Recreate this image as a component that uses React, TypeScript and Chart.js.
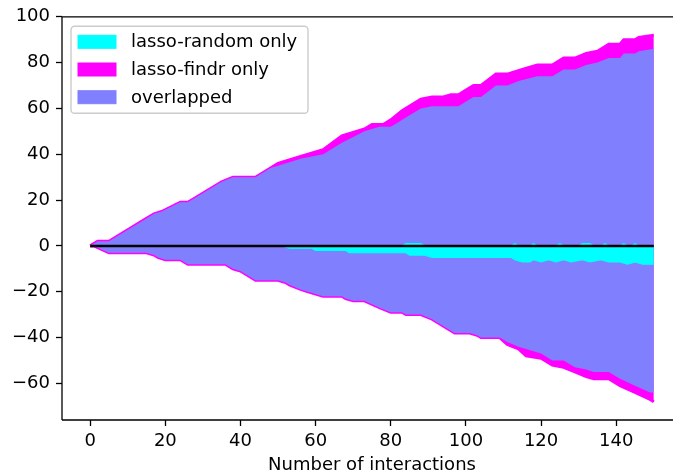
import React, { useEffect, useRef } from 'react';
import { Chart, registerables } from 'chart.js';

Chart.register(...registerables);

// ---------- data ----------
const xTickValues = [0, 20, 40, 60, 80, 100, 120, 140];
const yTickValues = [-60, -40, -20, 0, 20, 40, 60, 80, 100];

// upper half: outer edge of "lasso-findr only" (magenta)
const posTotalX = [0, 2, 5, 15, 17, 19, 24, 26, 35, 38, 44, 50, 56, 62, 67, 73, 75, 78, 80, 83, 88, 91, 94, 96, 98, 102, 104, 108, 111, 115, 119, 123, 126, 129, 132, 135, 138, 141, 142, 145, 146, 150];
const posTotalY = [0, 2, 2, 12, 14, 15, 19, 19, 28, 30, 30, 36, 39, 42, 48, 51, 53, 53, 55, 59, 64, 65, 65, 66, 66, 70, 70, 75, 75, 77, 79, 79, 82, 82, 84, 85, 88, 88, 90, 90, 91, 92];

// upper half: top of "overlapped" (blue)
const posOverlapX = [0, 2, 5, 15, 17, 19, 24, 26, 35, 38, 44, 48, 50, 56, 62, 67, 73, 77, 80, 82, 84, 88, 91, 98, 102, 104, 108, 111, 114, 119, 123, 126, 129, 132, 135, 138, 141, 142, 145, 146, 150];
const posOverlapY = [0, 2, 2, 12, 14, 15, 19, 19, 28, 30, 30, 34, 35, 38, 40, 45, 50, 52, 52, 54, 56, 60, 61, 61, 65, 65, 70, 70, 72, 74, 74, 77, 77, 79, 80, 82, 82, 84, 84, 85, 86];

// upper half: "lasso-random only" (cyan) small blips
const posRandomX = [0, 83, 84, 88, 89, 112, 113, 114, 117, 118, 119, 124, 125, 126, 130, 131, 133, 134, 136, 137, 138, 141, 142, 143, 144, 145, 146, 150];
const posRandomY = [0, 0, 1, 1, 0, 0, 1, 0, 0, 1, 0, 0, 1, 0, 0, 1, 1, 0, 0, 1, 0, 0, 1, 0, 0, 1, 0, 0];

// lower half: "lasso-random only" (cyan)
const negRandomX = [0, 51, 53, 59, 60, 68, 69, 84, 85, 89, 91, 112, 113, 115, 117, 118, 120, 122, 124, 126, 128, 131, 133, 136, 138, 141, 143, 145, 147, 150];
const negRandomY = [0, 0, -1, -1, -2, -2, -3, -3, -4, -4, -5, -5, -6, -7, -7, -6, -7, -6, -7, -6, -7, -6, -7, -6, -7, -7, -8, -7, -8, -8];

// lower half: edge of "overlapped" (blue)
const negOverlapX = [0, 1, 5, 15, 17, 18, 20, 24, 26, 36, 38, 40, 44, 50, 52, 53, 56, 58, 60, 62, 67, 68, 70, 73, 77, 80, 83, 84, 88, 91, 97, 101, 103, 104, 109, 111, 114, 116, 120, 123, 126, 129, 132, 134, 138, 141, 145, 149, 150];
const negOverlapY = [0, 0, -3, -3, -4, -5, -6, -6, -8, -8, -10, -11, -15, -15, -16, -17, -19, -20, -21, -22, -22, -23, -24, -24, -27, -29, -29, -30, -30, -32, -38, -38, -39, -40, -40, -42, -44, -45, -47, -50, -50, -53, -54, -55, -55, -58, -61, -64, -64];

// lower half: outer edge of "lasso-findr only" (magenta)
const negTotalX = negOverlapX;
const negTotalY = [0, 0, -3, -3, -4, -5, -6, -6, -8, -8, -10, -11, -15, -15, -16, -17, -19, -20, -21, -22, -22, -23, -24, -24, -27, -29, -29, -30, -30, -32, -38, -38, -39, -40, -40, -43, -45, -48, -49, -52, -53, -55, -57, -58, -58, -61, -64, -67, -68];

const zeroLineX = [0, 150];
const zeroLineY = [0, 0];

const labels = ['lasso-random only', 'lasso-findr only', 'overlapped'];
const colors = ['#00ffff', '#ff00ff', '#8080ff'];

const X_MIN = -7.5;
const X_MAX = 157.5;
const Y_MIN = -76;
const Y_MAX = 100;

const FONT = '"DejaVu Sans", "Liberation Sans", sans-serif';

const pts = (xs: number[], ys: number[]) => xs.map((x, i) => ({ x, y: ys[i] }));
const fmt = (v: number) => (v < 0 ? '\u2212' + Math.abs(v) : String(v));

export default function App() {
  const ref = useRef<HTMLCanvasElement>(null);

  useEffect(() => {
    if (!ref.current) return;

    const framePlugin = {
      id: 'frame',
      afterDraw(chart: any) {
        const { ctx, chartArea: a } = chart;
        const xs = chart.scales.x;
        ctx.save();
        ctx.strokeStyle = '#000';
        ctx.lineWidth = 1.3;
        ctx.beginPath();
        ctx.moveTo(a.left, a.top);
        ctx.lineTo(a.left, a.bottom);
        ctx.moveTo(a.left, a.bottom);
        ctx.lineTo(a.right, a.bottom);
        ctx.moveTo(a.left, a.top);
        ctx.lineTo(a.right, a.top);
        ctx.moveTo(a.right, a.top);
        ctx.lineTo(a.right, a.bottom);
        ctx.stroke();

        // x-axis title, centred on the axes box
        const cx = (xs.getPixelForValue(X_MIN) + xs.getPixelForValue(X_MAX)) / 2;
        ctx.fillStyle = '#000';
        ctx.font = `18px ${FONT}`;
        ctx.textAlign = 'center';
        ctx.textBaseline = 'middle';
        ctx.fillText('Number of interactions', cx, a.bottom + 45);

        // legend (matplotlib-like, upper left)
        const bx = a.left + 9;
        const by = a.top + 9.5;
        const bw = 237;
        const bh = 87;
        ctx.beginPath();
        (ctx as any).roundRect(bx, by, bw, bh, 3.6);
        ctx.fillStyle = 'rgba(255,255,255,0.8)';
        ctx.fill();
        ctx.strokeStyle = '#cccccc';
        ctx.lineWidth = 1.4;
        ctx.stroke();
        labels.forEach((lab, i) => {
          const cy = by + 15.5 + i * 27.7;
          ctx.fillStyle = colors[i];
          ctx.fillRect(bx + 7, cy - 6.5, 38, 13);
          ctx.strokeStyle = colors[i];
          ctx.lineWidth = 1;
          ctx.strokeRect(bx + 7, cy - 6.5, 38, 13);
          ctx.fillStyle = '#000';
          ctx.font = `18px ${FONT}`;
          ctx.textAlign = 'left';
          ctx.textBaseline = 'middle';
          ctx.fillText(lab, bx + 60, cy + 1);
        });
        ctx.restore();
      },
    };

    const base = { pointRadius: 0, pointHoverRadius: 0, tension: 0 };

    const chart = new Chart(ref.current, {
      type: 'line',
      data: {
        datasets: [
          { ...base, label: 'zero', data: pts(zeroLineX, zeroLineY), borderColor: '#000', borderWidth: 2.5, fill: false },
          { ...base, label: labels[0], data: pts(posRandomX, posRandomY), borderColor: colors[0], backgroundColor: colors[0], borderWidth: 1.2, fill: 'origin' },
          { ...base, label: labels[0] + ' (neg)', data: pts(negRandomX, negRandomY), borderColor: colors[0], backgroundColor: colors[0], borderWidth: 1.2, fill: 'origin' },
          { ...base, label: labels[2], data: pts(posOverlapX, posOverlapY), borderColor: 'rgba(0,0,0,0)', backgroundColor: colors[2], borderWidth: 1, fill: 'origin' },
          { ...base, label: labels[2] + ' (neg)', data: pts(negOverlapX, negOverlapY), borderColor: 'rgba(0,0,0,0)', backgroundColor: colors[2], borderWidth: 1, fill: 'origin' },
          { ...base, label: labels[1], data: pts(posTotalX, posTotalY), borderColor: colors[1], backgroundColor: colors[1], borderWidth: 3, fill: 'origin' },
          { ...base, label: labels[1] + ' (neg)', data: pts(negTotalX, negTotalY), borderColor: colors[1], backgroundColor: colors[1], borderWidth: 3, fill: 'origin' },
        ],
      },
      options: {
        animation: false,
        responsive: false,
        devicePixelRatio: 1,
        events: [],
        layout: { padding: { top: 16, right: 8, left: 0, bottom: 0 } },
        plugins: { legend: { display: false }, tooltip: { enabled: false } },
        scales: {
          x: {
            type: 'linear',
            min: X_MIN,
            max: X_MAX,
            afterBuildTicks: (s: any) => { s.ticks = xTickValues.map((v) => ({ value: v })); },
            afterFit: (s: any) => { s.height = 52; },
            grid: { drawOnChartArea: false, drawTicks: true, tickLength: 6, tickColor: '#000', tickWidth: 1.3 },
            border: { display: false },
            ticks: { font: { family: FONT, size: 18 }, color: '#000', padding: 5, maxRotation: 0, autoSkip: false, callback: (v: any) => fmt(Number(v)) },
          },
          y: {
            type: 'linear',
            min: Y_MIN,
            max: Y_MAX,
            afterBuildTicks: (s: any) => { s.ticks = yTickValues.map((v) => ({ value: v })); },
            afterFit: (s: any) => { s.width = 62; },
            grid: { drawOnChartArea: false, drawTicks: true, tickLength: 6, tickColor: '#000', tickWidth: 1.3 },
            border: { display: false },
            ticks: { font: { family: FONT, size: 18 }, color: '#000', padding: 6, autoSkip: false, callback: (v: any) => fmt(Number(v)) },
          },
        },
      },
      plugins: [framePlugin],
    } as any);

    return () => chart.destroy();
  }, []);

  return (
    <div style={{ position: 'absolute', left: 0, top: 0, width: 673, height: 472, overflow: 'hidden', background: '#fff' }}>
      <canvas ref={ref} width={690} height={472} style={{ display: 'block' }} />
    </div>
  );
}
